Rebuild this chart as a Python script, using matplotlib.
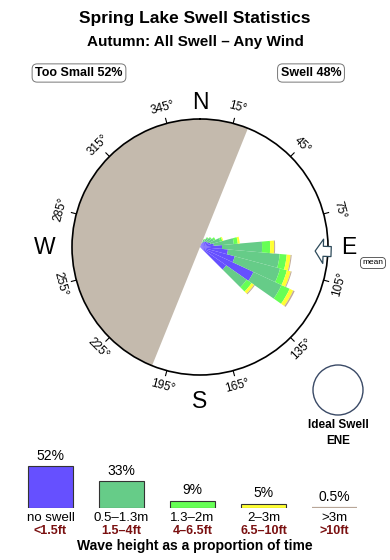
import numpy as np
import matplotlib
matplotlib.use("Agg")
import matplotlib.pyplot as plt
from matplotlib.patches import Circle

plt.rcParams["font.family"] = ["Liberation Sans", "DejaVu Sans"]

# --- data ------------------------------------------------------------------
TITLE = "Spring Lake Swell Statistics"
SUBTITLE = "Autumn: All Swell \u2013 Any Wind"
TOO_SMALL, SWELL = 52, 48
LAND_FROM, LAND_TO = 202, 22          # shaded sector (bearings, clockwise from LAND_FROM)
MEAN_DIR = 92
IDEAL = "ENE"

# rose: 10 deg sectors, stacked radial lengths (rim = 100)
DIRS = [30, 40, 50, 60, 70, 80, 90, 100, 110, 120, 130]
R_NOSWELL = [3.9, 5.5, 6.3, 7.0, 8.6, 10.9, 17.2, 21.9, 28.1, 46.1, 25.0]
R_SMALL   = [2.3, 3.1, 3.9, 4.7, 7.8, 15.6, 31.3, 40.6, 36.7, 24.2, 19.5]
R_MED     = [0.8, 0.8, 0.8, 1.6, 1.6, 3.1, 6.3, 5.5, 5.5, 7.0, 4.7]
R_LARGE   = [0.0, 0.0, 0.0, 0.0, 0.8, 1.6, 3.1, 3.1, 3.1, 3.1, 2.3]
R_HUGE    = [0.0, 0.0, 0.0, 0.0, 0.0, 0.0, 0.8, 0.8, 0.8, 1.2, 0.8]

CATS = ["no swell", "0.5\u20131.3m", "1.3\u20132m", "2\u20133m", ">3m"]
FEET = ["<1.5ft", "1.5\u20134ft", "4\u20136.5ft", "6.5\u201310ft", ">10ft"]
PCT = [52, 33, 9, 5, 0.5]
COLORS = ["#6650ff", "#66cc88", "#66ff55", "#ffff33", "#c2aa98"]
LAND = "#c4baad"
DEG_LABELS = list(range(15, 360, 30))

fig = plt.figure(figsize=(3.9, 5.6), dpi=100)
fig.patch.set_facecolor("white")

fig.text(0.5, 1 - 18 / 560, TITLE, ha="center", va="center", fontsize=12.5, fontweight="bold")
fig.text(0.5, 1 - 42 / 560, SUBTITLE, ha="center", va="center", fontsize=11, fontweight="bold")
box = dict(boxstyle="round,pad=0.25,rounding_size=0.4", fc="white", ec="#777", lw=0.7)
fig.text(79 / 390, 1 - 73 / 560, f"Too Small {TOO_SMALL}%", ha="center", va="center",
         fontsize=9, fontweight="bold", bbox=box)
fig.text(311 / 390, 1 - 73 / 560, f"Swell {SWELL}%", ha="center", va="center",
         fontsize=9, fontweight="bold", bbox=box)

# --- rose --------------------------------------------------------------------
ax = fig.add_axes([72 / 390, (560 - 247 - 128) / 560, 256 / 390, 256 / 560], projection="polar")
ax.set_theta_zero_location("N")
ax.set_theta_direction(-1)
ax.set_ylim(0, 100)
ax.set_xticks([]); ax.set_yticks([]); ax.grid(False)
ax.spines["polar"].set_linewidth(1.2)
ax.spines["polar"].set_color("black")

span = (LAND_TO - LAND_FROM) % 360
ax.bar(np.deg2rad(LAND_FROM + span / 2), 100, width=np.deg2rad(span), color=LAND, lw=0, zorder=0)

th = np.deg2rad(DIRS)
w = np.deg2rad(10)
bottom = np.zeros(len(DIRS))
for vals, c in zip([R_NOSWELL, R_SMALL, R_MED, R_LARGE, R_HUGE], COLORS):
    ax.bar(th, vals, width=w, bottom=bottom, color=c, lw=0, zorder=2)
    bottom += np.array(vals)

for b in DEG_LABELS:
    t = np.deg2rad(b)
    ax.plot([t, t], [100, 104], color="black", lw=0.8, clip_on=False)
    rot = -b if (b < 90 or b > 270) else 180 - b
    ax.text(t, 112.5, f"{b}\u00b0", rotation=rot, rotation_mode="anchor", ha="center",
            va="center", fontsize=8.5, clip_on=False)

for lab, b, r in [("N", 0, 113), ("E", 90, 116), ("S", 180, 121), ("W", 270, 121)]:
    ax.text(np.deg2rad(b), r, lab, ha="center", va="center", fontsize=16.5, clip_on=False)

ax.annotate("", xy=(np.deg2rad(MEAN_DIR), 90), xytext=(np.deg2rad(MEAN_DIR), 102.5),
            arrowprops=dict(arrowstyle="simple,head_length=0.58,head_width=1.75,tail_width=0.72",
                            fc="white", ec="#2d4a5a", lw=0.9, shrinkA=0, shrinkB=0,
                            mutation_scale=10), annotation_clip=False, zorder=5)
fig.text(373 / 390, 1 - 263 / 560, "mean", ha="center", va="center", fontsize=6,
         bbox=dict(boxstyle="round,pad=0.25,rounding_size=0.5", fc="white", ec="#444", lw=0.6))

# ideal swell marker
fig.add_artist(Circle((3.38, (560 - 390) / 100), 0.25, transform=fig.dpi_scale_trans,
                      fc="white", ec="#3a4a66", lw=1.0))
fig.text(338 / 390, 1 - 425 / 560, "Ideal Swell", ha="center", va="center", fontsize=8.5,
         fontweight="bold")
fig.text(338 / 390, 1 - 441 / 560, IDEAL, ha="center", va="center", fontsize=8.5,
         fontweight="bold")

# --- height legend -----------------------------------------------------------
lax = fig.add_axes([15 / 390, 52 / 560, 355 / 390, 60 / 560])
x = np.arange(len(CATS))
lax.bar(x, PCT, width=0.63, color=COLORS, edgecolor=["#333", "#333", "#333", "#333", "#b8a698"],
        lw=[0.8, 0.8, 0.8, 0.8, 1.6])
lax.set_xlim(-0.5, len(CATS) - 0.5)
lax.set_ylim(0, 74.3)
lax.axis("off")
for i, (p, c, f) in enumerate(zip(PCT, CATS, FEET)):
    lax.annotate(f"{p}%", (i, p), xytext=(0, 2.5), textcoords="offset points",
                 ha="center", va="bottom", fontsize=10, annotation_clip=False)
    lax.annotate(c, (i, 0), xytext=(0, -3), textcoords="offset points",
                 ha="center", va="top", fontsize=9.5, annotation_clip=False)
    lax.annotate(f, (i, 0), xytext=(0, -12), textcoords="offset points",
                 ha="center", va="top", fontsize=9, fontweight="bold", color="#7a1010",
                 annotation_clip=False)
fig.text(0.5, 1 - 546 / 560, "Wave height as a proportion of time", ha="center", va="center",
         fontsize=10, fontweight="bold")

fig.savefig("out.png", dpi=100, facecolor="white")
